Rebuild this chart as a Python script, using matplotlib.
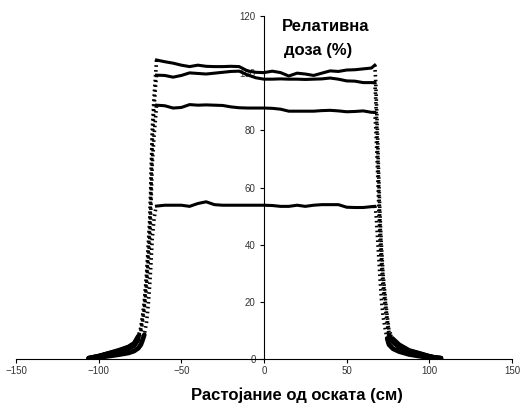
import numpy as np
import matplotlib.pyplot as plt

# shared x positions (cm)
left_x = [-106, -100, -94, -88, -82, -78.5, -76, -74.5, -73.5, -72.4, -71, -70, -69, -68.5, -67.6, -66.5, -65.5, -65]
flat_x = [-60, -55, -50, -45, -40, -35, -30, -25, -20, -15, -10, -5, 0, 5, 10, 15, 20, 25, 30, 35, 40, 45, 50, 55, 60, 65]
right_x = [67, 67.5, 68, 68.6, 69.6, 70.2, 71, 72, 73.6, 74.5, 75.6, 78, 81.7, 87.7, 93.8, 99.8, 103, 107]

# profile 1 (~102 %)
p1_left = [0.3, 1, 2, 3, 4.2, 5.5, 8, 11, 15, 20, 30, 40, 50, 60, 80, 92, 100, 104.6]
p1_flat = [104.0, 103.5, 102.8, 102.3, 102.8, 102.4, 102.3, 102.3, 102.4, 102.3, 100.8, 100.3, 100.2,
           100.7, 100.2, 99.0, 100.0, 99.7, 99.2, 100.0, 100.8, 100.6, 101.1, 101.2, 101.5, 101.8]
p1_right = [102.8, 98, 90, 80, 60, 50, 40, 30, 20, 15, 10, 7, 5, 3, 2, 1, 0.6, 0.3]

# profile 2 (~98 %)
p2_left = [0.3, 1, 1.9, 2.8, 4, 5.2, 7.6, 10.5, 14, 19, 28.5, 38, 47.5, 57, 76, 88, 96, 99.3]
p2_flat = [99.2, 98.6, 99.2, 100.1, 99.9, 99.7, 100.0, 100.3, 100.6, 100.7, 99.4, 98.4, 97.9,
           97.9, 98.0, 97.9, 97.9, 97.8, 97.9, 98.0, 98.3, 97.9, 97.3, 97.2, 96.7, 96.7]
p2_right = [96.7, 92, 84.6, 75, 56.4, 47, 37.6, 28.2, 18.8, 14.1, 9.4, 6.6, 4.7, 2.8, 1.9, 0.9, 0.5, 0.3]

# profile 3 (~87 %)
p3_left = [0.2, 0.9, 1.7, 2.6, 3.6, 4.7, 6.8, 9.4, 12.8, 17, 25.5, 34, 42.5, 51, 68, 78, 85, 88.8]
p3_flat = [88.6, 87.8, 88.0, 89.0, 88.8, 88.9, 88.8, 88.7, 88.2, 87.9, 87.8, 87.8, 87.8,
           87.7, 87.4, 86.7, 86.7, 86.7, 86.7, 86.9, 87.0, 86.8, 86.5, 86.6, 86.8, 86.3]
p3_right = [86.3, 82, 75.6, 67, 50.4, 42, 33.6, 25.2, 16.8, 12.6, 8.4, 5.9, 4.2, 2.5, 1.7, 0.8, 0.5, 0.2]

# profile 4 (~54 %)
p4_left = [0.2, 0.5, 1, 1.5, 2.1, 2.8, 3.8, 5, 6.5, 8.5, 13, 19, 27, 32, 42, 49, 52.5, 53.5]
p4_flat = [53.8, 53.8, 53.8, 53.4, 54.4, 55.0, 54.0, 53.8, 53.8, 53.8, 53.8, 53.8, 53.8,
           53.7, 53.4, 53.4, 53.8, 53.4, 53.8, 54.0, 54.0, 54.0, 53.1, 53.0, 53.0, 53.3]
p4_right = [53.4, 52, 49, 43, 34, 28, 21, 15, 9.5, 7.2, 5, 3.6, 2.6, 1.6, 1, 0.5, 0.3, 0.2]

profiles = [(p1_left, p1_flat, p1_right), (p2_left, p2_flat, p2_right),
            (p3_left, p3_flat, p3_right), (p4_left, p4_flat, p4_right)]

plt.rcParams['font.family'] = ['Liberation Sans', 'DejaVu Sans']

fig = plt.figure(figsize=(5.27, 4.12), dpi=100)
ax = fig.add_axes([16 / 527, 53 / 412, 496 / 527, 343 / 412])

for lf, fl, rt in profiles:
    # steep edges: dotted look
    for ex, ey in ((left_x, lf), (right_x, rt)):
        ex = np.array(ex, dtype=float)
        ey = np.array(ey, dtype=float)
        ax.plot(ex, ey, color='black', lw=2.6, ls=(0, (0.45, 0.9)), zorder=3)
        tail = np.where(ey <= 9, ey, np.nan)
        ax.plot(ex, tail, color='black', lw=3.4, zorder=3, solid_capstyle='round')
    # flat top solid
    x = np.array(left_x[-1:] + flat_x + right_x[:1], dtype=float)
    y = np.array(lf[-1:] + fl + rt[:1], dtype=float)
    ax.plot(x, y, color='black', lw=2.2, zorder=3, solid_joinstyle='round')

ax.set_xlim(-150, 150)
ax.set_ylim(0, 120)
ax.set_xticks([-150, -100, -50, 0, 50, 100, 150])
ax.set_yticks([0, 20, 40, 60, 80, 100, 120])

ax.spines['left'].set_position(('data', 0))
ax.spines['right'].set_visible(False)
ax.spines['top'].set_visible(False)
for s in ('left', 'bottom'):
    ax.spines[s].set_linewidth(0.8)

ax.tick_params(axis='both', direction='out', length=3, width=0.8, labelsize=7,
               labelcolor='#333333', pad=2)
ax.tick_params(axis='y', pad=3)

fig.text(0.617, 0.935, 'Релативна', ha='center', va='center', fontsize=12, fontweight='bold')
fig.text(0.604, 0.878, 'доза (%)', ha='center', va='center', fontsize=12, fontweight='bold')
fig.text(0.563, 0.041, 'Растојание од оската (см)', ha='center', va='center',
         fontsize=12, fontweight='bold')

fig.savefig('out.png', dpi=100)
